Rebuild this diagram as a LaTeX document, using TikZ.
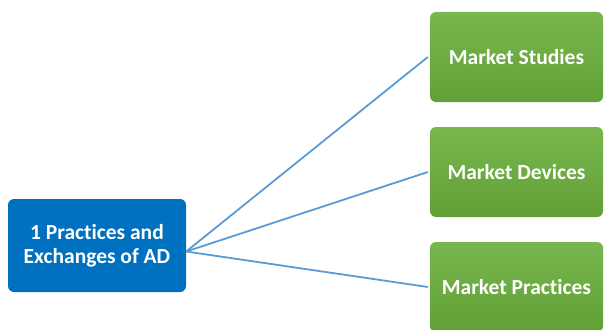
\documentclass[tikz,border=0pt]{standalone}
\usepackage{fontspec}
\setmainfont{Carlito}[Ligatures=NoCommon]
\definecolor{adblue}{HTML}{0070C0}
\definecolor{linkblue}{HTML}{5B9BD5}
\definecolor{mktgreen}{HTML}{70AD47}
\definecolor{mktgreentop}{HTML}{78B74E}
\definecolor{mktgreenbot}{HTML}{62A037}
\begin{document}
\begin{tikzpicture}[x=1pt,y=-1pt,every node/.style={align=center,rounded corners=6pt,inner sep=0pt,text=white,font=\bfseries\fontsize{21.5}{24}\selectfont},
  mkt/.style={top color=mktgreentop,bottom color=mktgreenbot,minimum width=173pt,minimum height=90pt}]
\useasboundingbox (0,0) rectangle (604,329);
\node[fill=adblue,minimum width=178pt,minimum height=93pt] (ad) at (97,245.5) {1 Practices and\\Exchanges of AD};
\node[mkt] (studies) at (516.5,57) {Market Studies};
\node[mkt] (devices) at (516.5,172) {Market Devices};
\node[mkt] (practices) at (516.5,287) {Market Practices};
\coordinate (hub) at ([yshift=-6pt]ad.east);
\draw[linkblue,line width=1.8pt] (hub)--([xshift=-2pt]studies.west);
\draw[linkblue,line width=1.8pt] (hub)--([xshift=-2pt]devices.west);
\draw[linkblue,line width=1.8pt] (hub)--([xshift=-2pt]practices.west);
\end{tikzpicture}
\end{document}
